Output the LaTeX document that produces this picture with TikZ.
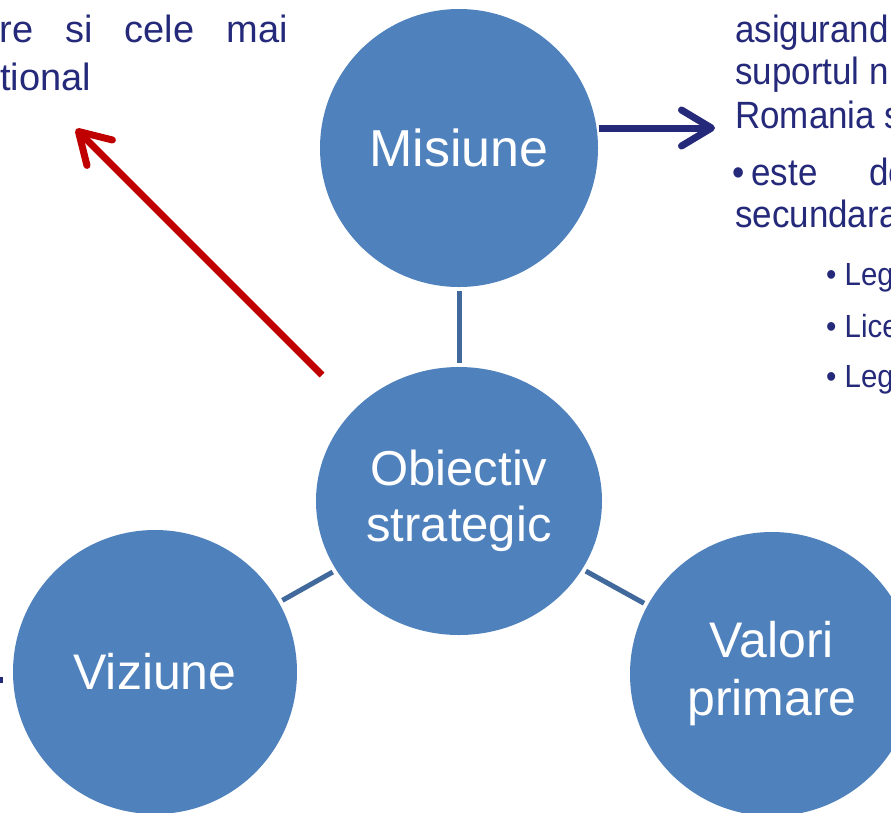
\documentclass[tikz,border=0pt]{standalone}
\usepackage{fontspec}
\setmainfont{Liberation Sans}
\newfontfamily\narrowfont[FakeStretch=0.92]{Liberation Sans}
\usetikzlibrary{shapes.geometric,arrows.meta}
\definecolor{ballblue}{HTML}{4F81BD}
\definecolor{linkblue}{HTML}{41699B}
\definecolor{navy}{HTML}{25297A}
\definecolor{darkred}{HTML}{C00000}
\tikzset{
  ball/.style={circle,fill=ballblue,text=white,align=center,inner sep=0pt},
  link/.style={draw=linkblue,line width=5pt,shorten <=4pt,shorten >=4pt},
  barb/.style={line width=7pt,-{Straight Barb[length=30pt,width=36pt,line width=7pt,round]}},
  txt/.style={anchor=base west,text=navy,inner sep=0pt}
}
\begin{document}
\begin{tikzpicture}[x=1pt,y=-1pt]
   \clip (0,0) rectangle (891,812);
   \fill[white] (0,0) rectangle (891,812);
   \node[ball,minimum size=278pt,font=\fontsize{52}{60}\selectfont] (mis) at (459,148) {Misiune};
   \node[ball,ellipse,minimum width=286pt,minimum height=268pt,font=\fontsize{49}{56}\selectfont] (obj) at (459,501) {Obiectiv\\strategic};
   \node[ball,minimum size=284pt,font=\fontsize{50}{58}\selectfont] (viz) at (155,672) {Viziune};
   \node[ball,minimum size=284pt,font=\fontsize{50}{58}\selectfont] (val) at (772,674) {Valori\\primare};
   \draw[link] (mis) -- (obj);
   \draw[link] (obj) -- (viz);
   \draw[link] (obj) -- (val);
   \coordinate (redtail) at (322,375);
   \coordinate (redtip) at (76,129);
   \coordinate (navytail) at (599,128);
   \coordinate (navytip) at (715,128);
   \draw[barb,darkred] (redtail) -- (redtip);
   \draw[barb,navy] (navytail) -- (navytip);
   \coordinate (leftmark) at (0,680);
   \coordinate (leftmarkend) at (3,680);
   \draw[navy,line width=6pt] (leftmark) -- (leftmarkend);
   \node[txt,anchor=base east,font=\fontsize{38}{38}\selectfont] (tl1) at (288,42) {re\hspace{32pt}si\hspace{32pt}cele\hspace{32pt}mai};
   \node[txt,font=\fontsize{38}{38}\selectfont] (tl2) at (0,90) {tional};
   \node[txt,font=\narrowfont\fontsize{38}{38}\selectfont] (tr1) at (735,42) {asigurand};
   \node[txt,font=\narrowfont\fontsize{38}{38}\selectfont] (tr2) at (735,84) {suportul n};
   \node[txt,font=\narrowfont\fontsize{38}{38}\selectfont] (tr3) at (735,128) {Romania s};
   \node[txt,font=\narrowfont\fontsize{38}{38}\selectfont] (tr4) at (732,185) {•\hspace{7pt}este\hspace{52pt}de};
   \node[txt,font=\narrowfont\fontsize{38}{38}\selectfont] (tr5) at (735,227) {secundara};
   \node[txt,font=\narrowfont\fontsize{32}{32}\selectfont] (b1) at (826,285) {• Leg};
   \node[txt,font=\narrowfont\fontsize{32}{32}\selectfont] (b2) at (826,337) {• Lice};
   \node[txt,font=\narrowfont\fontsize{32}{32}\selectfont] (b3) at (826,387) {• Leg};
\end{tikzpicture}
\end{document}
